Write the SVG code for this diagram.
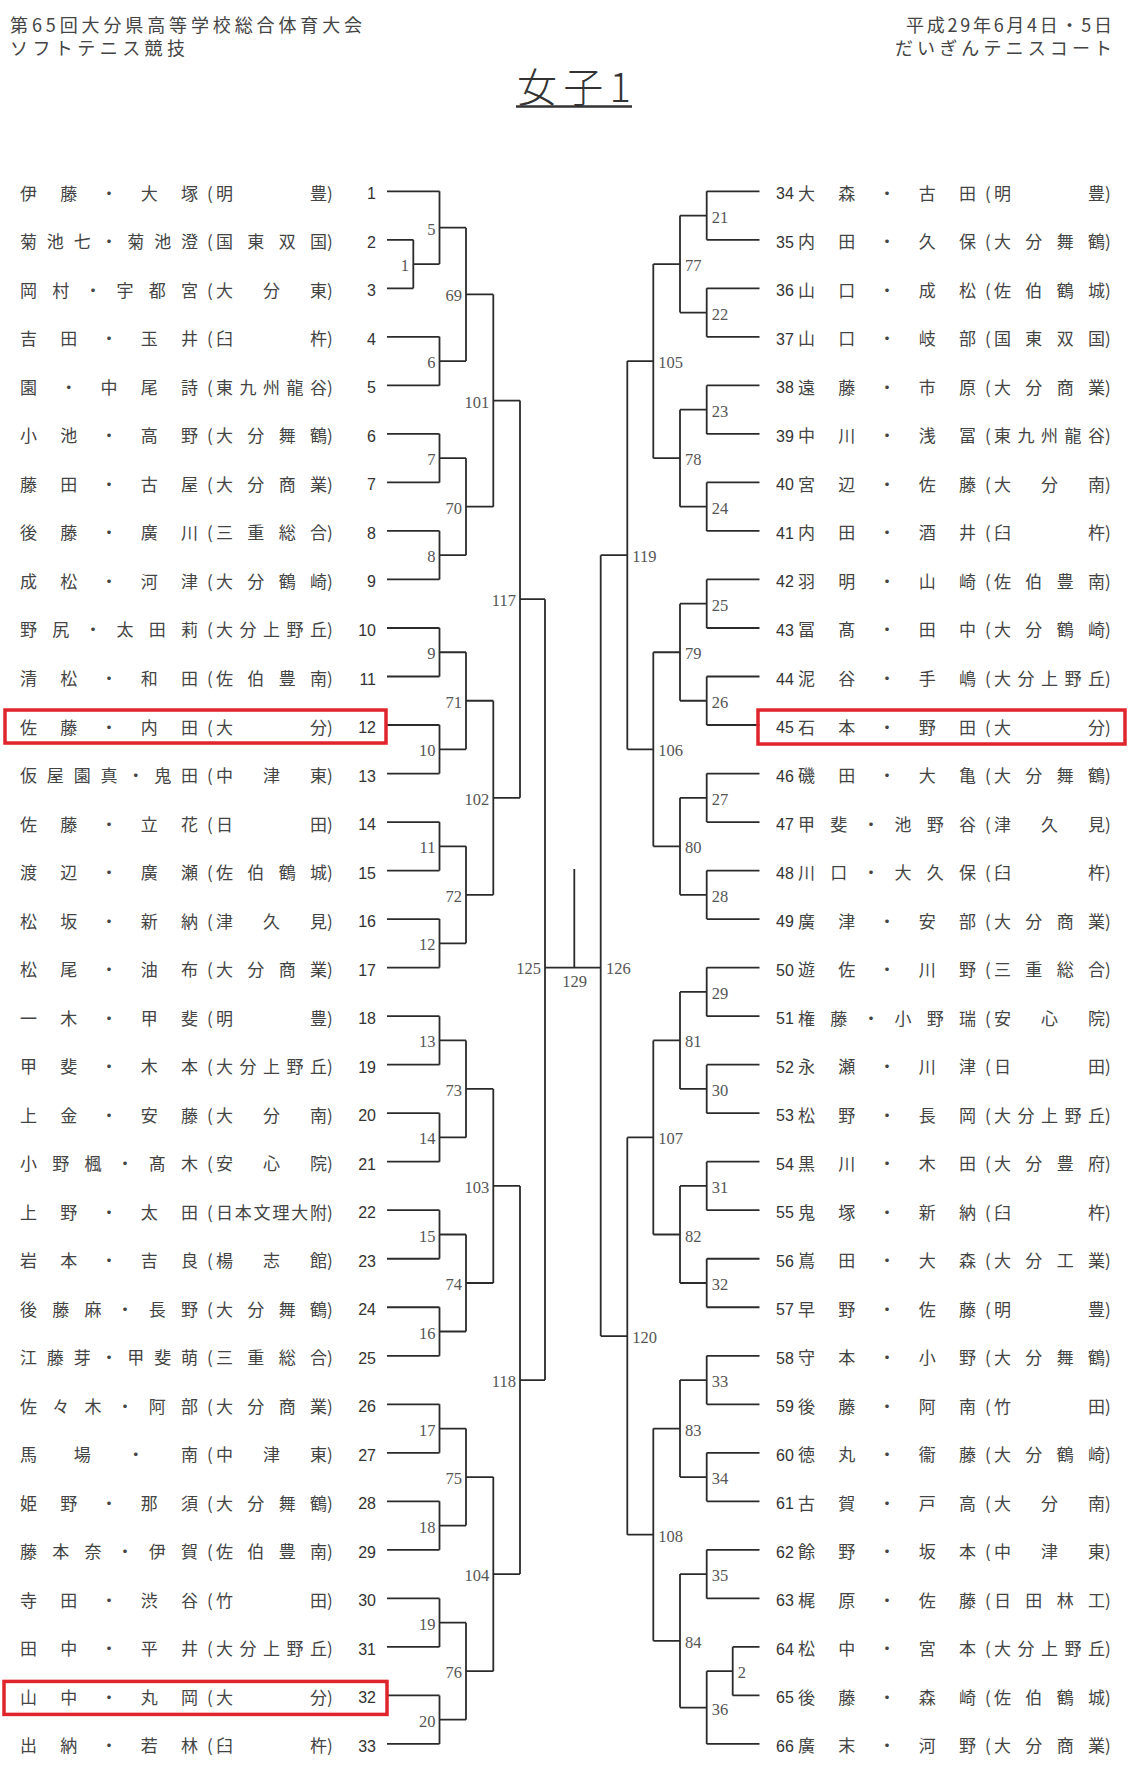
<svg xmlns="http://www.w3.org/2000/svg" width="1132" height="1777" viewBox="0 0 1132 1777">
<style>
.bg{fill:#fff}
.hd{font-family:"Noto Sans CJK JP","Noto Sans CJK SC",sans-serif;font-size:18px;fill:#444}
.tt{font-family:"Noto Sans CJK JP","Noto Sans CJK SC",sans-serif;font-size:40px;font-weight:300;fill:#333}
.nm{font-family:"Noto Sans CJK JP","Noto Sans CJK SC",sans-serif;font-size:17px;fill:#444}
.nl{font-family:"Liberation Sans",Arial,sans-serif;font-size:16px;fill:#333;text-anchor:end}
.nr{font-family:"Liberation Sans",Arial,sans-serif;font-size:16px;fill:#333}
.lb{font-family:"Liberation Serif","Times New Roman",serif;font-size:16.5px;fill:#555}
.le{text-anchor:end}
.ln{stroke:#2b2b2b;stroke-width:1.8;fill:none}
.hl{stroke:#e0242b;stroke-width:3.5;fill:none}
</style>
<rect class="bg" x="0" y="0" width="1132" height="1777"/>
<g id="header">
<text class="hd" x="10" y="32" textLength="352">第65回大分県高等学校総合体育大会</text>
<text class="hd" x="10" y="54.5" textLength="175">ソフトテニス競技</text>
<text class="hd" x="906" y="32" textLength="206">平成29年6月4日・5日</text>
<text class="hd" x="895" y="54.5" textLength="217">だいぎんテニスコート</text>
<text class="tt" x="517" y="102" textLength="114">女子1</text>
<line x1="516" y1="106.5" x2="632" y2="106.5" stroke="#333" stroke-width="2.5"/>
</g>
<g id="connectors" class="ln">
<path d="M387 191.3H439.5M387 239.82H413.3M387 288.34H413.3M387 336.86H439.5M387 385.38H439.5M387 433.9H439.5M387 482.42H439.5M387 530.94H439.5M387 579.46H439.5M387 627.98H439.5M387 676.5H439.5M387 725.02H439.5M387 773.54H439.5M387 822.06H439.5M387 870.58H439.5M387 919.1H439.5M387 967.62H439.5M387 1016.14H439.5M387 1064.66H439.5M387 1113.18H439.5M387 1161.7H439.5M387 1210.22H439.5M387 1258.74H439.5M387 1307.26H439.5M387 1355.78H439.5M387 1404.3H439.5M387 1452.82H439.5M387 1501.34H439.5M387 1549.86H439.5M387 1598.38H439.5M387 1646.9H439.5M387 1695.42H439.5M387 1743.94H439.5"/>
<path d="M413.3 239.82V288.34M413.3 264.08H439.5"/>
<path d="M439.5 191.3V264.08M439.5 227.69H466"/>
<path d="M439.5 336.86V385.38M439.5 361.12H466"/>
<path d="M466 227.69V361.12M466 294.4H493.3"/>
<path d="M439.5 433.9V482.42M439.5 458.16H466"/>
<path d="M439.5 530.94V579.46M439.5 555.2H466"/>
<path d="M466 458.16V555.2M466 506.68H493.3"/>
<path d="M493.3 294.4V506.68M493.3 400.54H520"/>
<path d="M439.5 627.98V676.5M439.5 652.24H466"/>
<path d="M439.5 725.02V773.54M439.5 749.28H466"/>
<path d="M466 652.24V749.28M466 700.76H493.3"/>
<path d="M439.5 822.06V870.58M439.5 846.32H466"/>
<path d="M439.5 919.1V967.62M439.5 943.36H466"/>
<path d="M466 846.32V943.36M466 894.84H493.3"/>
<path d="M493.3 700.76V894.84M493.3 797.8H520"/>
<path d="M520 400.54V797.8M520 599.17H545"/>
<path d="M439.5 1016.14V1064.66M439.5 1040.4H466"/>
<path d="M439.5 1113.18V1161.7M439.5 1137.44H466"/>
<path d="M466 1040.4V1137.44M466 1088.92H493.3"/>
<path d="M439.5 1210.22V1258.74M439.5 1234.48H466"/>
<path d="M439.5 1307.26V1355.78M439.5 1331.52H466"/>
<path d="M466 1234.48V1331.52M466 1283H493.3"/>
<path d="M493.3 1088.92V1283M493.3 1185.96H520"/>
<path d="M439.5 1404.3V1452.82M439.5 1428.56H466"/>
<path d="M439.5 1501.34V1549.86M439.5 1525.6H466"/>
<path d="M466 1428.56V1525.6M466 1477.08H493.3"/>
<path d="M439.5 1598.38V1646.9M439.5 1622.64H466"/>
<path d="M439.5 1695.42V1743.94M439.5 1719.68H466"/>
<path d="M466 1622.64V1719.68M466 1671.16H493.3"/>
<path d="M493.3 1477.08V1671.16M493.3 1574.12H520"/>
<path d="M520 1185.96V1574.12M520 1380.04H545"/>
<path d="M545 599.17V1380.04M545 967.62H600.7"/>
<path d="M574.3 869V967.62"/>
<path d="M759.5 191.3H706.7M759.5 239.82H706.7M759.5 288.34H706.7M759.5 336.86H706.7M759.5 385.38H706.7M759.5 433.9H706.7M759.5 482.42H706.7M759.5 530.94H706.7M759.5 579.46H706.7M759.5 627.98H706.7M759.5 676.5H706.7M759.5 725.02H706.7M759.5 773.54H706.7M759.5 822.06H706.7M759.5 870.58H706.7M759.5 919.1H706.7M759.5 967.62H706.7M759.5 1016.14H706.7M759.5 1064.66H706.7M759.5 1113.18H706.7M759.5 1161.7H706.7M759.5 1210.22H706.7M759.5 1258.74H706.7M759.5 1307.26H706.7M759.5 1355.78H706.7M759.5 1404.3H706.7M759.5 1452.82H706.7M759.5 1501.34H706.7M759.5 1549.86H706.7M759.5 1598.38H706.7M759.5 1646.9H732.7M759.5 1695.42H732.7M759.5 1743.94H706.7"/>
<path d="M706.7 191.3V239.82M706.7 215.56H680"/>
<path d="M706.7 288.34V336.86M706.7 312.6H680"/>
<path d="M680 215.56V312.6M680 264.08H653.3"/>
<path d="M706.7 385.38V433.9M706.7 409.64H680"/>
<path d="M706.7 482.42V530.94M706.7 506.68H680"/>
<path d="M680 409.64V506.68M680 458.16H653.3"/>
<path d="M653.3 264.08V458.16M653.3 361.12H627.3"/>
<path d="M706.7 579.46V627.98M706.7 603.72H680"/>
<path d="M706.7 676.5V725.02M706.7 700.76H680"/>
<path d="M680 603.72V700.76M680 652.24H653.3"/>
<path d="M706.7 773.54V822.06M706.7 797.8H680"/>
<path d="M706.7 870.58V919.1M706.7 894.84H680"/>
<path d="M680 797.8V894.84M680 846.32H653.3"/>
<path d="M653.3 652.24V846.32M653.3 749.28H627.3"/>
<path d="M627.3 361.12V749.28M627.3 555.2H600.7"/>
<path d="M706.7 967.62V1016.14M706.7 991.88H680"/>
<path d="M706.7 1064.66V1113.18M706.7 1088.92H680"/>
<path d="M680 991.88V1088.92M680 1040.4H653.3"/>
<path d="M706.7 1161.7V1210.22M706.7 1185.96H680"/>
<path d="M706.7 1258.74V1307.26M706.7 1283H680"/>
<path d="M680 1185.96V1283M680 1234.48H653.3"/>
<path d="M653.3 1040.4V1234.48M653.3 1137.44H627.3"/>
<path d="M706.7 1355.78V1404.3M706.7 1380.04H680"/>
<path d="M706.7 1452.82V1501.34M706.7 1477.08H680"/>
<path d="M680 1380.04V1477.08M680 1428.56H653.3"/>
<path d="M706.7 1549.86V1598.38M706.7 1574.12H680"/>
<path d="M732.7 1646.9V1695.42M732.7 1671.16H706.7"/>
<path d="M706.7 1671.16V1743.94M706.7 1707.55H680"/>
<path d="M680 1574.12V1707.55M680 1640.84H653.3"/>
<path d="M653.3 1428.56V1640.84M653.3 1534.7H627.3"/>
<path d="M627.3 1137.44V1534.7M627.3 1336.07H600.7"/>
<path d="M600.7 555.2V1336.07"/>
</g>
<g id="match-labels" class="lb">
<g id="m1"><text class="le" x="409" y="271.1">1</text></g>
<g id="m5"><text class="le" x="435.5" y="234.7">5</text></g>
<g id="m6"><text class="le" x="435.5" y="368.1">6</text></g>
<g id="m69"><text class="le" x="462" y="301.4">69</text></g>
<g id="m7"><text class="le" x="435.5" y="465.2">7</text></g>
<g id="m8"><text class="le" x="435.5" y="562.2">8</text></g>
<g id="m70"><text class="le" x="462" y="513.7">70</text></g>
<g id="m101"><text class="le" x="489.3" y="407.5">101</text></g>
<g id="m9"><text class="le" x="435.5" y="659.2">9</text></g>
<g id="m10"><text class="le" x="435.5" y="756.3">10</text></g>
<g id="m71"><text class="le" x="462" y="707.8">71</text></g>
<g id="m11"><text class="le" x="435.5" y="853.3">11</text></g>
<g id="m12"><text class="le" x="435.5" y="950.4">12</text></g>
<g id="m72"><text class="le" x="462" y="901.8">72</text></g>
<g id="m102"><text class="le" x="489.3" y="804.8">102</text></g>
<g id="m117"><text class="le" x="516" y="606.2">117</text></g>
<g id="m13"><text class="le" x="435.5" y="1047.4">13</text></g>
<g id="m14"><text class="le" x="435.5" y="1144.4">14</text></g>
<g id="m73"><text class="le" x="462" y="1095.9">73</text></g>
<g id="m15"><text class="le" x="435.5" y="1241.5">15</text></g>
<g id="m16"><text class="le" x="435.5" y="1338.5">16</text></g>
<g id="m74"><text class="le" x="462" y="1290">74</text></g>
<g id="m103"><text class="le" x="489.3" y="1193">103</text></g>
<g id="m17"><text class="le" x="435.5" y="1435.6">17</text></g>
<g id="m18"><text class="le" x="435.5" y="1532.6">18</text></g>
<g id="m75"><text class="le" x="462" y="1484.1">75</text></g>
<g id="m19"><text class="le" x="435.5" y="1629.6">19</text></g>
<g id="m20"><text class="le" x="435.5" y="1726.7">20</text></g>
<g id="m76"><text class="le" x="462" y="1678.2">76</text></g>
<g id="m104"><text class="le" x="489.3" y="1581.1">104</text></g>
<g id="m118"><text class="le" x="516" y="1387">118</text></g>
<g id="m125"><text class="le" x="541" y="973.6">125</text></g>
<g id="m129"><text x="574.5" y="987" text-anchor="middle">129</text></g>
<g id="m126"><text x="606" y="973.6">126</text></g>
<g id="m21"><text x="711.7" y="222.6">21</text></g>
<g id="m22"><text x="711.7" y="319.6">22</text></g>
<g id="m77"><text x="685" y="271.1">77</text></g>
<g id="m23"><text x="711.7" y="416.6">23</text></g>
<g id="m24"><text x="711.7" y="513.7">24</text></g>
<g id="m78"><text x="685" y="465.2">78</text></g>
<g id="m105"><text x="658.3" y="368.1">105</text></g>
<g id="m25"><text x="711.7" y="610.7">25</text></g>
<g id="m26"><text x="711.7" y="707.8">26</text></g>
<g id="m79"><text x="685" y="659.2">79</text></g>
<g id="m27"><text x="711.7" y="804.8">27</text></g>
<g id="m28"><text x="711.7" y="901.8">28</text></g>
<g id="m80"><text x="685" y="853.3">80</text></g>
<g id="m106"><text x="658.3" y="756.3">106</text></g>
<g id="m119"><text x="632.3" y="562.2">119</text></g>
<g id="m29"><text x="711.7" y="998.9">29</text></g>
<g id="m30"><text x="711.7" y="1095.9">30</text></g>
<g id="m81"><text x="685" y="1047.4">81</text></g>
<g id="m31"><text x="711.7" y="1193">31</text></g>
<g id="m32"><text x="711.7" y="1290">32</text></g>
<g id="m82"><text x="685" y="1241.5">82</text></g>
<g id="m107"><text x="658.3" y="1144.4">107</text></g>
<g id="m33"><text x="711.7" y="1387">33</text></g>
<g id="m34"><text x="711.7" y="1484.1">34</text></g>
<g id="m83"><text x="685" y="1435.6">83</text></g>
<g id="m35"><text x="711.7" y="1581.1">35</text></g>
<g id="m2"><text x="737.7" y="1678.2">2</text></g>
<g id="m36"><text x="711.7" y="1714.6">36</text></g>
<g id="m84"><text x="685" y="1647.8">84</text></g>
<g id="m108"><text x="658.3" y="1541.7">108</text></g>
<g id="m120"><text x="632.3" y="1343.1">120</text></g>
</g>
<g id="team-1" transform="translate(0 191.3)"><text class="nm" x="20" y="8.5" textLength="178">伊藤・大塚</text><text class="nm" x="207" y="8.5">(</text><text class="nm" x="216" y="8.5" textLength="111">明豊</text><text class="nm" x="327" y="8.5">)</text><text class="nl" x="376" y="8">1</text></g>
<g id="team-2" transform="translate(0 239.82)"><text class="nm" x="20" y="8.5" textLength="178">菊池七・菊池澄</text><text class="nm" x="207" y="8.5">(</text><text class="nm" x="216" y="8.5" textLength="111">国東双国</text><text class="nm" x="327" y="8.5">)</text><text class="nl" x="376" y="8">2</text></g>
<g id="team-3" transform="translate(0 288.34)"><text class="nm" x="20" y="8.5" textLength="178">岡村・宇都宮</text><text class="nm" x="207" y="8.5">(</text><text class="nm" x="216" y="8.5" textLength="111">大分東</text><text class="nm" x="327" y="8.5">)</text><text class="nl" x="376" y="8">3</text></g>
<g id="team-4" transform="translate(0 336.86)"><text class="nm" x="20" y="8.5" textLength="178">吉田・玉井</text><text class="nm" x="207" y="8.5">(</text><text class="nm" x="216" y="8.5" textLength="111">臼杵</text><text class="nm" x="327" y="8.5">)</text><text class="nl" x="376" y="8">4</text></g>
<g id="team-5" transform="translate(0 385.38)"><text class="nm" x="20" y="8.5" textLength="178">園・中尾詩</text><text class="nm" x="207" y="8.5">(</text><text class="nm" x="216" y="8.5" textLength="111">東九州龍谷</text><text class="nm" x="327" y="8.5">)</text><text class="nl" x="376" y="8">5</text></g>
<g id="team-6" transform="translate(0 433.9)"><text class="nm" x="20" y="8.5" textLength="178">小池・高野</text><text class="nm" x="207" y="8.5">(</text><text class="nm" x="216" y="8.5" textLength="111">大分舞鶴</text><text class="nm" x="327" y="8.5">)</text><text class="nl" x="376" y="8">6</text></g>
<g id="team-7" transform="translate(0 482.42)"><text class="nm" x="20" y="8.5" textLength="178">藤田・古屋</text><text class="nm" x="207" y="8.5">(</text><text class="nm" x="216" y="8.5" textLength="111">大分商業</text><text class="nm" x="327" y="8.5">)</text><text class="nl" x="376" y="8">7</text></g>
<g id="team-8" transform="translate(0 530.94)"><text class="nm" x="20" y="8.5" textLength="178">後藤・廣川</text><text class="nm" x="207" y="8.5">(</text><text class="nm" x="216" y="8.5" textLength="111">三重総合</text><text class="nm" x="327" y="8.5">)</text><text class="nl" x="376" y="8">8</text></g>
<g id="team-9" transform="translate(0 579.46)"><text class="nm" x="20" y="8.5" textLength="178">成松・河津</text><text class="nm" x="207" y="8.5">(</text><text class="nm" x="216" y="8.5" textLength="111">大分鶴崎</text><text class="nm" x="327" y="8.5">)</text><text class="nl" x="376" y="8">9</text></g>
<g id="team-10" transform="translate(0 627.98)"><text class="nm" x="20" y="8.5" textLength="178">野尻・太田莉</text><text class="nm" x="207" y="8.5">(</text><text class="nm" x="216" y="8.5" textLength="111">大分上野丘</text><text class="nm" x="327" y="8.5">)</text><text class="nl" x="376" y="8">10</text></g>
<g id="team-11" transform="translate(0 676.5)"><text class="nm" x="20" y="8.5" textLength="178">清松・和田</text><text class="nm" x="207" y="8.5">(</text><text class="nm" x="216" y="8.5" textLength="111">佐伯豊南</text><text class="nm" x="327" y="8.5">)</text><text class="nl" x="376" y="8">11</text></g>
<g id="team-12" transform="translate(0 725.02)"><text class="nm" x="20" y="8.5" textLength="178">佐藤・内田</text><text class="nm" x="207" y="8.5">(</text><text class="nm" x="216" y="8.5" textLength="111">大分</text><text class="nm" x="327" y="8.5">)</text><text class="nl" x="376" y="8">12</text><rect class="hl" x="5" y="-15" width="381" height="33"/></g>
<g id="team-13" transform="translate(0 773.54)"><text class="nm" x="20" y="8.5" textLength="178">仮屋園真・鬼田</text><text class="nm" x="207" y="8.5">(</text><text class="nm" x="216" y="8.5" textLength="111">中津東</text><text class="nm" x="327" y="8.5">)</text><text class="nl" x="376" y="8">13</text></g>
<g id="team-14" transform="translate(0 822.06)"><text class="nm" x="20" y="8.5" textLength="178">佐藤・立花</text><text class="nm" x="207" y="8.5">(</text><text class="nm" x="216" y="8.5" textLength="111">日田</text><text class="nm" x="327" y="8.5">)</text><text class="nl" x="376" y="8">14</text></g>
<g id="team-15" transform="translate(0 870.58)"><text class="nm" x="20" y="8.5" textLength="178">渡辺・廣瀬</text><text class="nm" x="207" y="8.5">(</text><text class="nm" x="216" y="8.5" textLength="111">佐伯鶴城</text><text class="nm" x="327" y="8.5">)</text><text class="nl" x="376" y="8">15</text></g>
<g id="team-16" transform="translate(0 919.1)"><text class="nm" x="20" y="8.5" textLength="178">松坂・新納</text><text class="nm" x="207" y="8.5">(</text><text class="nm" x="216" y="8.5" textLength="111">津久見</text><text class="nm" x="327" y="8.5">)</text><text class="nl" x="376" y="8">16</text></g>
<g id="team-17" transform="translate(0 967.62)"><text class="nm" x="20" y="8.5" textLength="178">松尾・油布</text><text class="nm" x="207" y="8.5">(</text><text class="nm" x="216" y="8.5" textLength="111">大分商業</text><text class="nm" x="327" y="8.5">)</text><text class="nl" x="376" y="8">17</text></g>
<g id="team-18" transform="translate(0 1016.14)"><text class="nm" x="20" y="8.5" textLength="178">一木・甲斐</text><text class="nm" x="207" y="8.5">(</text><text class="nm" x="216" y="8.5" textLength="111">明豊</text><text class="nm" x="327" y="8.5">)</text><text class="nl" x="376" y="8">18</text></g>
<g id="team-19" transform="translate(0 1064.66)"><text class="nm" x="20" y="8.5" textLength="178">甲斐・木本</text><text class="nm" x="207" y="8.5">(</text><text class="nm" x="216" y="8.5" textLength="111">大分上野丘</text><text class="nm" x="327" y="8.5">)</text><text class="nl" x="376" y="8">19</text></g>
<g id="team-20" transform="translate(0 1113.18)"><text class="nm" x="20" y="8.5" textLength="178">上金・安藤</text><text class="nm" x="207" y="8.5">(</text><text class="nm" x="216" y="8.5" textLength="111">大分南</text><text class="nm" x="327" y="8.5">)</text><text class="nl" x="376" y="8">20</text></g>
<g id="team-21" transform="translate(0 1161.7)"><text class="nm" x="20" y="8.5" textLength="178">小野楓・髙木</text><text class="nm" x="207" y="8.5">(</text><text class="nm" x="216" y="8.5" textLength="111">安心院</text><text class="nm" x="327" y="8.5">)</text><text class="nl" x="376" y="8">21</text></g>
<g id="team-22" transform="translate(0 1210.22)"><text class="nm" x="20" y="8.5" textLength="178">上野・太田</text><text class="nm" x="207" y="8.5">(</text><text class="nm" x="216" y="8.5" textLength="111">日本文理大附</text><text class="nm" x="327" y="8.5">)</text><text class="nl" x="376" y="8">22</text></g>
<g id="team-23" transform="translate(0 1258.74)"><text class="nm" x="20" y="8.5" textLength="178">岩本・吉良</text><text class="nm" x="207" y="8.5">(</text><text class="nm" x="216" y="8.5" textLength="111">楊志館</text><text class="nm" x="327" y="8.5">)</text><text class="nl" x="376" y="8">23</text></g>
<g id="team-24" transform="translate(0 1307.26)"><text class="nm" x="20" y="8.5" textLength="178">後藤麻・長野</text><text class="nm" x="207" y="8.5">(</text><text class="nm" x="216" y="8.5" textLength="111">大分舞鶴</text><text class="nm" x="327" y="8.5">)</text><text class="nl" x="376" y="8">24</text></g>
<g id="team-25" transform="translate(0 1355.78)"><text class="nm" x="20" y="8.5" textLength="178">江藤芽・甲斐萌</text><text class="nm" x="207" y="8.5">(</text><text class="nm" x="216" y="8.5" textLength="111">三重総合</text><text class="nm" x="327" y="8.5">)</text><text class="nl" x="376" y="8">25</text></g>
<g id="team-26" transform="translate(0 1404.3)"><text class="nm" x="20" y="8.5" textLength="178">佐々木・阿部</text><text class="nm" x="207" y="8.5">(</text><text class="nm" x="216" y="8.5" textLength="111">大分商業</text><text class="nm" x="327" y="8.5">)</text><text class="nl" x="376" y="8">26</text></g>
<g id="team-27" transform="translate(0 1452.82)"><text class="nm" x="20" y="8.5" textLength="178">馬場・南</text><text class="nm" x="207" y="8.5">(</text><text class="nm" x="216" y="8.5" textLength="111">中津東</text><text class="nm" x="327" y="8.5">)</text><text class="nl" x="376" y="8">27</text></g>
<g id="team-28" transform="translate(0 1501.34)"><text class="nm" x="20" y="8.5" textLength="178">姫野・那須</text><text class="nm" x="207" y="8.5">(</text><text class="nm" x="216" y="8.5" textLength="111">大分舞鶴</text><text class="nm" x="327" y="8.5">)</text><text class="nl" x="376" y="8">28</text></g>
<g id="team-29" transform="translate(0 1549.86)"><text class="nm" x="20" y="8.5" textLength="178">藤本奈・伊賀</text><text class="nm" x="207" y="8.5">(</text><text class="nm" x="216" y="8.5" textLength="111">佐伯豊南</text><text class="nm" x="327" y="8.5">)</text><text class="nl" x="376" y="8">29</text></g>
<g id="team-30" transform="translate(0 1598.38)"><text class="nm" x="20" y="8.5" textLength="178">寺田・渋谷</text><text class="nm" x="207" y="8.5">(</text><text class="nm" x="216" y="8.5" textLength="111">竹田</text><text class="nm" x="327" y="8.5">)</text><text class="nl" x="376" y="8">30</text></g>
<g id="team-31" transform="translate(0 1646.9)"><text class="nm" x="20" y="8.5" textLength="178">田中・平井</text><text class="nm" x="207" y="8.5">(</text><text class="nm" x="216" y="8.5" textLength="111">大分上野丘</text><text class="nm" x="327" y="8.5">)</text><text class="nl" x="376" y="8">31</text></g>
<g id="team-32" transform="translate(0 1695.42)"><text class="nm" x="20" y="8.5" textLength="178">山中・丸岡</text><text class="nm" x="207" y="8.5">(</text><text class="nm" x="216" y="8.5" textLength="111">大分</text><text class="nm" x="327" y="8.5">)</text><text class="nl" x="376" y="8">32</text><rect class="hl" x="4" y="-14" width="383" height="33"/></g>
<g id="team-33" transform="translate(0 1743.94)"><text class="nm" x="20" y="8.5" textLength="178">出納・若林</text><text class="nm" x="207" y="8.5">(</text><text class="nm" x="216" y="8.5" textLength="111">臼杵</text><text class="nm" x="327" y="8.5">)</text><text class="nl" x="376" y="8">33</text></g>
<g id="team-34" transform="translate(778 191.3)"><text class="nr" x="-2" y="8">34</text><text class="nm" x="20" y="8.5" textLength="178">大森・古田</text><text class="nm" x="207" y="8.5">(</text><text class="nm" x="216" y="8.5" textLength="111">明豊</text><text class="nm" x="327" y="8.5">)</text></g>
<g id="team-35" transform="translate(778 239.82)"><text class="nr" x="-2" y="8">35</text><text class="nm" x="20" y="8.5" textLength="178">内田・久保</text><text class="nm" x="207" y="8.5">(</text><text class="nm" x="216" y="8.5" textLength="111">大分舞鶴</text><text class="nm" x="327" y="8.5">)</text></g>
<g id="team-36" transform="translate(778 288.34)"><text class="nr" x="-2" y="8">36</text><text class="nm" x="20" y="8.5" textLength="178">山口・成松</text><text class="nm" x="207" y="8.5">(</text><text class="nm" x="216" y="8.5" textLength="111">佐伯鶴城</text><text class="nm" x="327" y="8.5">)</text></g>
<g id="team-37" transform="translate(778 336.86)"><text class="nr" x="-2" y="8">37</text><text class="nm" x="20" y="8.5" textLength="178">山口・岐部</text><text class="nm" x="207" y="8.5">(</text><text class="nm" x="216" y="8.5" textLength="111">国東双国</text><text class="nm" x="327" y="8.5">)</text></g>
<g id="team-38" transform="translate(778 385.38)"><text class="nr" x="-2" y="8">38</text><text class="nm" x="20" y="8.5" textLength="178">遠藤・市原</text><text class="nm" x="207" y="8.5">(</text><text class="nm" x="216" y="8.5" textLength="111">大分商業</text><text class="nm" x="327" y="8.5">)</text></g>
<g id="team-39" transform="translate(778 433.9)"><text class="nr" x="-2" y="8">39</text><text class="nm" x="20" y="8.5" textLength="178">中川・浅冨</text><text class="nm" x="207" y="8.5">(</text><text class="nm" x="216" y="8.5" textLength="111">東九州龍谷</text><text class="nm" x="327" y="8.5">)</text></g>
<g id="team-40" transform="translate(778 482.42)"><text class="nr" x="-2" y="8">40</text><text class="nm" x="20" y="8.5" textLength="178">宮辺・佐藤</text><text class="nm" x="207" y="8.5">(</text><text class="nm" x="216" y="8.5" textLength="111">大分南</text><text class="nm" x="327" y="8.5">)</text></g>
<g id="team-41" transform="translate(778 530.94)"><text class="nr" x="-2" y="8">41</text><text class="nm" x="20" y="8.5" textLength="178">内田・酒井</text><text class="nm" x="207" y="8.5">(</text><text class="nm" x="216" y="8.5" textLength="111">臼杵</text><text class="nm" x="327" y="8.5">)</text></g>
<g id="team-42" transform="translate(778 579.46)"><text class="nr" x="-2" y="8">42</text><text class="nm" x="20" y="8.5" textLength="178">羽明・山崎</text><text class="nm" x="207" y="8.5">(</text><text class="nm" x="216" y="8.5" textLength="111">佐伯豊南</text><text class="nm" x="327" y="8.5">)</text></g>
<g id="team-43" transform="translate(778 627.98)"><text class="nr" x="-2" y="8">43</text><text class="nm" x="20" y="8.5" textLength="178">冨髙・田中</text><text class="nm" x="207" y="8.5">(</text><text class="nm" x="216" y="8.5" textLength="111">大分鶴崎</text><text class="nm" x="327" y="8.5">)</text></g>
<g id="team-44" transform="translate(778 676.5)"><text class="nr" x="-2" y="8">44</text><text class="nm" x="20" y="8.5" textLength="178">泥谷・手嶋</text><text class="nm" x="207" y="8.5">(</text><text class="nm" x="216" y="8.5" textLength="111">大分上野丘</text><text class="nm" x="327" y="8.5">)</text></g>
<g id="team-45" transform="translate(778 725.02)"><text class="nr" x="-2" y="8">45</text><text class="nm" x="20" y="8.5" textLength="178">石本・野田</text><text class="nm" x="207" y="8.5">(</text><text class="nm" x="216" y="8.5" textLength="111">大分</text><text class="nm" x="327" y="8.5">)</text><rect class="hl" x="-20" y="-15" width="367" height="34"/></g>
<g id="team-46" transform="translate(778 773.54)"><text class="nr" x="-2" y="8">46</text><text class="nm" x="20" y="8.5" textLength="178">磯田・大亀</text><text class="nm" x="207" y="8.5">(</text><text class="nm" x="216" y="8.5" textLength="111">大分舞鶴</text><text class="nm" x="327" y="8.5">)</text></g>
<g id="team-47" transform="translate(778 822.06)"><text class="nr" x="-2" y="8">47</text><text class="nm" x="20" y="8.5" textLength="178">甲斐・池野谷</text><text class="nm" x="207" y="8.5">(</text><text class="nm" x="216" y="8.5" textLength="111">津久見</text><text class="nm" x="327" y="8.5">)</text></g>
<g id="team-48" transform="translate(778 870.58)"><text class="nr" x="-2" y="8">48</text><text class="nm" x="20" y="8.5" textLength="178">川口・大久保</text><text class="nm" x="207" y="8.5">(</text><text class="nm" x="216" y="8.5" textLength="111">臼杵</text><text class="nm" x="327" y="8.5">)</text></g>
<g id="team-49" transform="translate(778 919.1)"><text class="nr" x="-2" y="8">49</text><text class="nm" x="20" y="8.5" textLength="178">廣津・安部</text><text class="nm" x="207" y="8.5">(</text><text class="nm" x="216" y="8.5" textLength="111">大分商業</text><text class="nm" x="327" y="8.5">)</text></g>
<g id="team-50" transform="translate(778 967.62)"><text class="nr" x="-2" y="8">50</text><text class="nm" x="20" y="8.5" textLength="178">遊佐・川野</text><text class="nm" x="207" y="8.5">(</text><text class="nm" x="216" y="8.5" textLength="111">三重総合</text><text class="nm" x="327" y="8.5">)</text></g>
<g id="team-51" transform="translate(778 1016.14)"><text class="nr" x="-2" y="8">51</text><text class="nm" x="20" y="8.5" textLength="178">権藤・小野瑞</text><text class="nm" x="207" y="8.5">(</text><text class="nm" x="216" y="8.5" textLength="111">安心院</text><text class="nm" x="327" y="8.5">)</text></g>
<g id="team-52" transform="translate(778 1064.66)"><text class="nr" x="-2" y="8">52</text><text class="nm" x="20" y="8.5" textLength="178">永瀬・川津</text><text class="nm" x="207" y="8.5">(</text><text class="nm" x="216" y="8.5" textLength="111">日田</text><text class="nm" x="327" y="8.5">)</text></g>
<g id="team-53" transform="translate(778 1113.18)"><text class="nr" x="-2" y="8">53</text><text class="nm" x="20" y="8.5" textLength="178">松野・長岡</text><text class="nm" x="207" y="8.5">(</text><text class="nm" x="216" y="8.5" textLength="111">大分上野丘</text><text class="nm" x="327" y="8.5">)</text></g>
<g id="team-54" transform="translate(778 1161.7)"><text class="nr" x="-2" y="8">54</text><text class="nm" x="20" y="8.5" textLength="178">黒川・木田</text><text class="nm" x="207" y="8.5">(</text><text class="nm" x="216" y="8.5" textLength="111">大分豊府</text><text class="nm" x="327" y="8.5">)</text></g>
<g id="team-55" transform="translate(778 1210.22)"><text class="nr" x="-2" y="8">55</text><text class="nm" x="20" y="8.5" textLength="178">鬼塚・新納</text><text class="nm" x="207" y="8.5">(</text><text class="nm" x="216" y="8.5" textLength="111">臼杵</text><text class="nm" x="327" y="8.5">)</text></g>
<g id="team-56" transform="translate(778 1258.74)"><text class="nr" x="-2" y="8">56</text><text class="nm" x="20" y="8.5" textLength="178">嶌田・大森</text><text class="nm" x="207" y="8.5">(</text><text class="nm" x="216" y="8.5" textLength="111">大分工業</text><text class="nm" x="327" y="8.5">)</text></g>
<g id="team-57" transform="translate(778 1307.26)"><text class="nr" x="-2" y="8">57</text><text class="nm" x="20" y="8.5" textLength="178">早野・佐藤</text><text class="nm" x="207" y="8.5">(</text><text class="nm" x="216" y="8.5" textLength="111">明豊</text><text class="nm" x="327" y="8.5">)</text></g>
<g id="team-58" transform="translate(778 1355.78)"><text class="nr" x="-2" y="8">58</text><text class="nm" x="20" y="8.5" textLength="178">守本・小野</text><text class="nm" x="207" y="8.5">(</text><text class="nm" x="216" y="8.5" textLength="111">大分舞鶴</text><text class="nm" x="327" y="8.5">)</text></g>
<g id="team-59" transform="translate(778 1404.3)"><text class="nr" x="-2" y="8">59</text><text class="nm" x="20" y="8.5" textLength="178">後藤・阿南</text><text class="nm" x="207" y="8.5">(</text><text class="nm" x="216" y="8.5" textLength="111">竹田</text><text class="nm" x="327" y="8.5">)</text></g>
<g id="team-60" transform="translate(778 1452.82)"><text class="nr" x="-2" y="8">60</text><text class="nm" x="20" y="8.5" textLength="178">徳丸・衞藤</text><text class="nm" x="207" y="8.5">(</text><text class="nm" x="216" y="8.5" textLength="111">大分鶴崎</text><text class="nm" x="327" y="8.5">)</text></g>
<g id="team-61" transform="translate(778 1501.34)"><text class="nr" x="-2" y="8">61</text><text class="nm" x="20" y="8.5" textLength="178">古賀・戸高</text><text class="nm" x="207" y="8.5">(</text><text class="nm" x="216" y="8.5" textLength="111">大分南</text><text class="nm" x="327" y="8.5">)</text></g>
<g id="team-62" transform="translate(778 1549.86)"><text class="nr" x="-2" y="8">62</text><text class="nm" x="20" y="8.5" textLength="178">餘野・坂本</text><text class="nm" x="207" y="8.5">(</text><text class="nm" x="216" y="8.5" textLength="111">中津東</text><text class="nm" x="327" y="8.5">)</text></g>
<g id="team-63" transform="translate(778 1598.38)"><text class="nr" x="-2" y="8">63</text><text class="nm" x="20" y="8.5" textLength="178">梶原・佐藤</text><text class="nm" x="207" y="8.5">(</text><text class="nm" x="216" y="8.5" textLength="111">日田林工</text><text class="nm" x="327" y="8.5">)</text></g>
<g id="team-64" transform="translate(778 1646.9)"><text class="nr" x="-2" y="8">64</text><text class="nm" x="20" y="8.5" textLength="178">松中・宮本</text><text class="nm" x="207" y="8.5">(</text><text class="nm" x="216" y="8.5" textLength="111">大分上野丘</text><text class="nm" x="327" y="8.5">)</text></g>
<g id="team-65" transform="translate(778 1695.42)"><text class="nr" x="-2" y="8">65</text><text class="nm" x="20" y="8.5" textLength="178">後藤・森崎</text><text class="nm" x="207" y="8.5">(</text><text class="nm" x="216" y="8.5" textLength="111">佐伯鶴城</text><text class="nm" x="327" y="8.5">)</text></g>
<g id="team-66" transform="translate(778 1743.94)"><text class="nr" x="-2" y="8">66</text><text class="nm" x="20" y="8.5" textLength="178">廣末・河野</text><text class="nm" x="207" y="8.5">(</text><text class="nm" x="216" y="8.5" textLength="111">大分商業</text><text class="nm" x="327" y="8.5">)</text></g>
</svg>
